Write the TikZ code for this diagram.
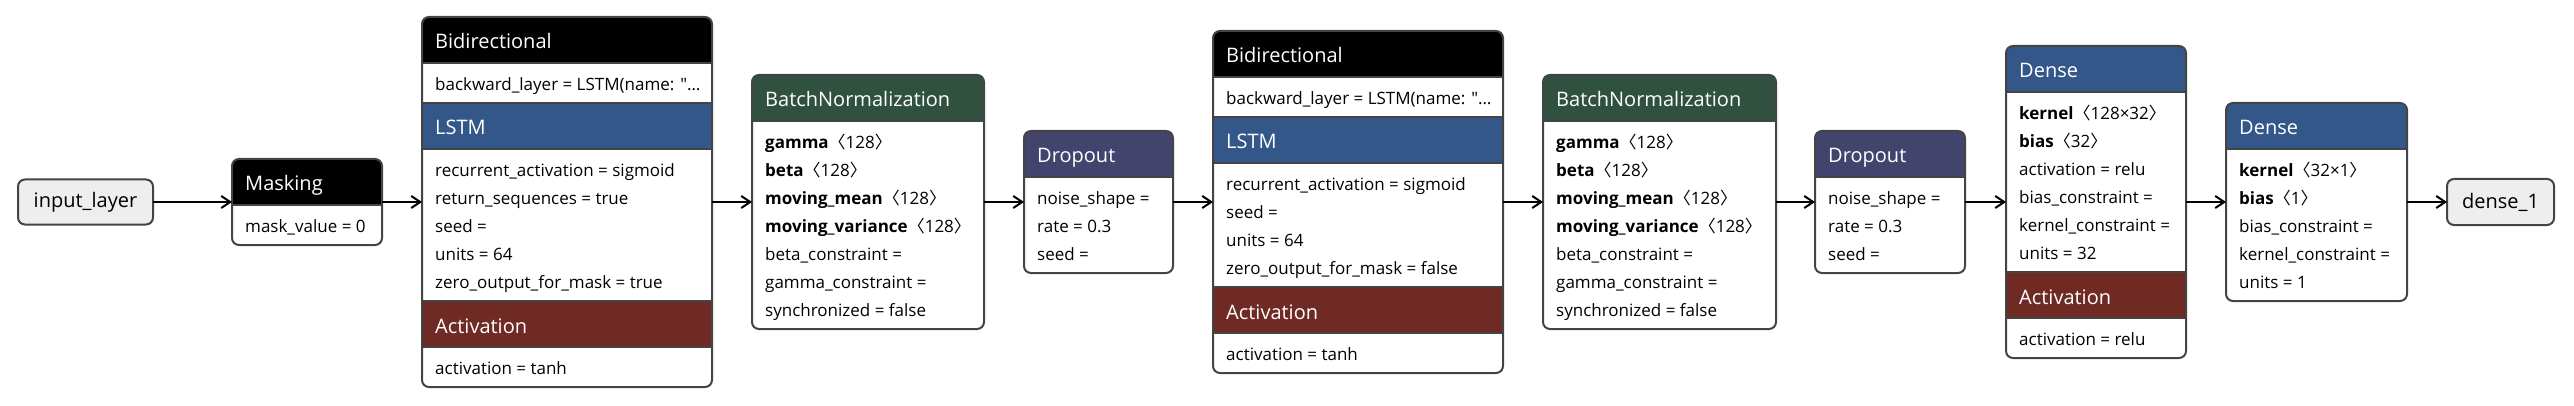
\documentclass[tikz,border=0pt]{standalone}
\usepackage{fontspec}
\setmainfont{Open Sans}
\newfontfamily\cjk{Noto Sans CJK SC}
\usetikzlibrary{arrows.meta}
\definecolor{lstmcol}{HTML}{34578A}
\definecolor{actcol}{HTML}{6E2A23}
\definecolor{bncol}{HTML}{30513F}
\definecolor{dropcol}{HTML}{42446E}
\definecolor{rimcol}{HTML}{444444}
\definecolor{iocol}{HTML}{EEEEEE}
\newcommand{\shp}[1]{{\cjk 〈}#1{\cjk 〉}}
\tikzset{
  layer/.style={rectangle, fill=white, inner sep=0pt, outer sep=0pt},
  rim/.style={draw=rimcol, line width=2pt, rounded corners=7pt},
  io/.style={rectangle, rounded corners=7pt, draw=rimcol, line width=2pt, fill=iocol, inner sep=0pt, outer sep=0pt, font=\fontsize{20}{24}\selectfont},
  sep/.style={draw=rimcol, line width=1.5pt},
  title/.style={anchor=base west, inner sep=0pt, text=white, font=\fontsize{20}{24}\selectfont},
  attr/.style={anchor=base west, inner sep=0pt, font=\fontsize{17}{20}\selectfont},
  flow/.style={-{Straight Barb[length=9pt,width=12pt]}, line width=2pt},
}
\begin{document}
\begin{tikzpicture}[x=1pt,y=-1pt]
\useasboundingbox (0,0) rectangle (2574,406);

\node[io, minimum width=135pt, minimum height=45pt] (inp) at (85.5,202) {input\_layer};

\node[layer, minimum width=150pt, minimum height=86pt] (mask) at (307,202) {};
\begin{scope}
  \clip[rounded corners=7pt] (mask.north west) rectangle (mask.south east);
  \fill[black] (232,159) rectangle (382,205);
  \draw[sep] (232,205) -- (382,205);
\end{scope}
\draw[rim] (mask.north west) rectangle (mask.south east);
\node[title] at (245,191) {Masking};
\node[attr] at (245,232.5) {mask\_value = 0};

\node[layer, minimum width=290pt, minimum height=370pt] (bidir1) at (567,202) {};
\begin{scope}
  \clip[rounded corners=7pt] (bidir1.north west) rectangle (bidir1.south east);
  \fill[black] (422,17) rectangle (712,63);
  \fill[lstmcol] (422,103) rectangle (712,149);
  \fill[actcol] (422,301) rectangle (712,347);
  \foreach \yy in {63,103,149,301,347}
    \draw[sep] (422,\yy) -- (712,\yy);
\end{scope}
\draw[rim] (bidir1.north west) rectangle (bidir1.south east);
\node[title] at (435,49) {Bidirectional};
\node[attr] at (435,90.5) {backward\_layer = LSTM(name: \textquotedbl…};
\node[title] at (435,135) {LSTM};
\foreach \t [count=\i from 0] in {recurrent\_activation = sigmoid, return\_sequences = true, seed =, units = 64, zero\_output\_for\_mask = true}
  \node[attr] at (435,{176.5+28*\i}) {\t};
\node[title] at (435,333) {Activation};
\node[attr] at (435,374.5) {activation = tanh};

\node[layer, minimum width=232pt, minimum height=254pt] (bnorm1) at (868,202) {};
\begin{scope}
  \clip[rounded corners=7pt] (bnorm1.north west) rectangle (bnorm1.south east);
  \fill[bncol] (752,75) rectangle (984,121);
  \draw[sep] (752,121) -- (984,121);
\end{scope}
\draw[rim] (bnorm1.north west) rectangle (bnorm1.south east);
\node[title] at (765,107) {BatchNormalization};
\foreach \t [count=\i from 0] in {\textbf{gamma}\shp{128}, \textbf{beta}\shp{128}, \textbf{moving\_mean}\shp{128}, \textbf{moving\_variance}\shp{128}, beta\_constraint =, gamma\_constraint =, synchronized = false}
  \node[attr] at (765,{148.5+28*\i}) {\t};

\node[layer, minimum width=149pt, minimum height=142pt] (drop1) at (1098.5,202) {};
\begin{scope}
  \clip[rounded corners=7pt] (drop1.north west) rectangle (drop1.south east);
  \fill[dropcol] (1024,131) rectangle (1173,177);
  \draw[sep] (1024,177) -- (1173,177);
\end{scope}
\draw[rim] (drop1.north west) rectangle (drop1.south east);
\node[title] at (1037,163) {Dropout};
\foreach \t [count=\i from 0] in {noise\_shape =, rate = 0.3, seed =}
  \node[attr] at (1037,{204.5+28*\i}) {\t};

\node[layer, minimum width=290pt, minimum height=342pt] (bidir2) at (1358,202) {};
\begin{scope}
  \clip[rounded corners=7pt] (bidir2.north west) rectangle (bidir2.south east);
  \fill[black] (1213,31) rectangle (1503,77);
  \fill[lstmcol] (1213,117) rectangle (1503,163);
  \fill[actcol] (1213,287) rectangle (1503,333);
  \foreach \yy in {77,117,163,287,333}
    \draw[sep] (1213,\yy) -- (1503,\yy);
\end{scope}
\draw[rim] (bidir2.north west) rectangle (bidir2.south east);
\node[title] at (1226,63) {Bidirectional};
\node[attr] at (1226,104.5) {backward\_layer = LSTM(name: \textquotedbl…};
\node[title] at (1226,149) {LSTM};
\foreach \t [count=\i from 0] in {recurrent\_activation = sigmoid, seed =, units = 64, zero\_output\_for\_mask = false}
  \node[attr] at (1226,{190.5+28*\i}) {\t};
\node[title] at (1226,319) {Activation};
\node[attr] at (1226,360.5) {activation = tanh};

\node[layer, minimum width=233pt, minimum height=254pt] (bnorm2) at (1659.5,202) {};
\begin{scope}
  \clip[rounded corners=7pt] (bnorm2.north west) rectangle (bnorm2.south east);
  \fill[bncol] (1543,75) rectangle (1776,121);
  \draw[sep] (1543,121) -- (1776,121);
\end{scope}
\draw[rim] (bnorm2.north west) rectangle (bnorm2.south east);
\node[title] at (1556,107) {BatchNormalization};
\foreach \t [count=\i from 0] in {\textbf{gamma}\shp{128}, \textbf{beta}\shp{128}, \textbf{moving\_mean}\shp{128}, \textbf{moving\_variance}\shp{128}, beta\_constraint =, gamma\_constraint =, synchronized = false}
  \node[attr] at (1556,{148.5+28*\i}) {\t};

\node[layer, minimum width=150pt, minimum height=142pt] (drop2) at (1890,202) {};
\begin{scope}
  \clip[rounded corners=7pt] (drop2.north west) rectangle (drop2.south east);
  \fill[dropcol] (1815,131) rectangle (1965,177);
  \draw[sep] (1815,177) -- (1965,177);
\end{scope}
\draw[rim] (drop2.north west) rectangle (drop2.south east);
\node[title] at (1828,163) {Dropout};
\foreach \t [count=\i from 0] in {noise\_shape =, rate = 0.3, seed =}
  \node[attr] at (1828,{204.5+28*\i}) {\t};

\node[layer, minimum width=180pt, minimum height=312pt] (dense1) at (2096,202) {};
\begin{scope}
  \clip[rounded corners=7pt] (dense1.north west) rectangle (dense1.south east);
  \fill[lstmcol] (2006,46) rectangle (2186,92);
  \fill[actcol] (2006,272) rectangle (2186,318);
  \foreach \yy in {92,272,318}
    \draw[sep] (2006,\yy) -- (2186,\yy);
\end{scope}
\draw[rim] (dense1.north west) rectangle (dense1.south east);
\node[title] at (2019,78) {Dense};
\foreach \t [count=\i from 0] in {\textbf{kernel}\shp{128×32}, \textbf{bias}\shp{32}, activation = relu, bias\_constraint =, kernel\_constraint =, units = 32}
  \node[attr] at (2019,{119.5+28*\i}) {\t};
\node[title] at (2019,304) {Activation};
\node[attr] at (2019,345.5) {activation = relu};

\node[layer, minimum width=181pt, minimum height=198pt] (dense2) at (2316.5,202) {};
\begin{scope}
  \clip[rounded corners=7pt] (dense2.north west) rectangle (dense2.south east);
  \fill[lstmcol] (2226,103) rectangle (2407,149);
  \draw[sep] (2226,149) -- (2407,149);
\end{scope}
\draw[rim] (dense2.north west) rectangle (dense2.south east);
\node[title] at (2239,135) {Dense};
\foreach \t [count=\i from 0] in {\textbf{kernel}\shp{32×1}, \textbf{bias}\shp{1}, bias\_constraint =, kernel\_constraint =, units = 1}
  \node[attr] at (2239,{176.5+28*\i}) {\t};

\node[io, minimum width=107pt, minimum height=46pt] (out) at (2500.5,202) {dense\_1};

\draw[flow] (inp.east) -- (mask.west);
\draw[flow] (mask.east) -- (bidir1.west);
\draw[flow] (bidir1.east) -- (bnorm1.west);
\draw[flow] (bnorm1.east) -- (drop1.west);
\draw[flow] (drop1.east) -- (bidir2.west);
\draw[flow] (bidir2.east) -- (bnorm2.west);
\draw[flow] (bnorm2.east) -- (drop2.west);
\draw[flow] (drop2.east) -- (dense1.west);
\draw[flow] (dense1.east) -- (dense2.west);
\draw[flow] (dense2.east) -- (out.west);
\end{tikzpicture}
\end{document}
